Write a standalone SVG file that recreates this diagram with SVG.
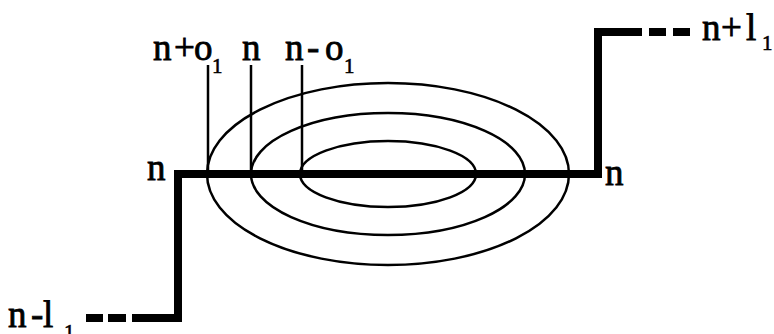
<svg xmlns="http://www.w3.org/2000/svg" width="774" height="334" viewBox="0 0 774 334">
<style>
.thick{fill:none;stroke:#000;stroke-width:8;stroke-linecap:butt;stroke-linejoin:miter}
.thin{fill:none;stroke:#000;stroke-width:2.5}
.lbl{font-family:"Liberation Serif",serif;font-size:37px;fill:#000;stroke:#000;stroke-width:0.8}
.sub{font-family:"Liberation Serif",serif;font-size:21px;fill:#000;stroke:#000;stroke-width:0.6}
</style>
<rect width="774" height="334" fill="#fff"/>
<g id="ellipses">
<ellipse class="thin" cx="388" cy="174" rx="181" ry="91"/>
<ellipse class="thin" cx="388" cy="174" rx="137" ry="61"/>
<ellipse class="thin" cx="388" cy="174" rx="88" ry="33"/>
</g>
<g id="connectors">
<line class="thin" x1="208" y1="65" x2="208" y2="174"/>
<line class="thin" x1="251" y1="65" x2="251" y2="174"/>
<line class="thin" x1="302" y1="65" x2="302" y2="174"/>
<polyline class="thick" points="132,318 178,318 178,174 598,174 598,32 642,32"/>
<line class="thick" x1="86" y1="318" x2="103" y2="318"/>
<line class="thick" x1="108" y1="318" x2="126" y2="318"/>
<line class="thick" x1="649" y1="32" x2="666" y2="32"/>
<line class="thick" x1="673" y1="32" x2="690" y2="32"/>
</g>
<g id="labels">
<text class="lbl" x="153 174 194" y="60">n+o</text><text class="sub" x="212" y="73">1</text>
<text class="lbl" x="242" y="60">n</text>
<text class="lbl" x="285 307 325" y="60">n-o</text><text class="sub" x="344" y="73">1</text>
<text class="lbl" x="147" y="180">n</text>
<text class="lbl" x="605" y="185">n</text>
<text class="lbl" x="702 721 746" y="40">n+l</text><text class="sub" x="762" y="50">1</text>
<text class="lbl" x="8 31 43" y="327">n-l</text><text class="sub" x="64" y="339">1</text>
</g>
</svg>
